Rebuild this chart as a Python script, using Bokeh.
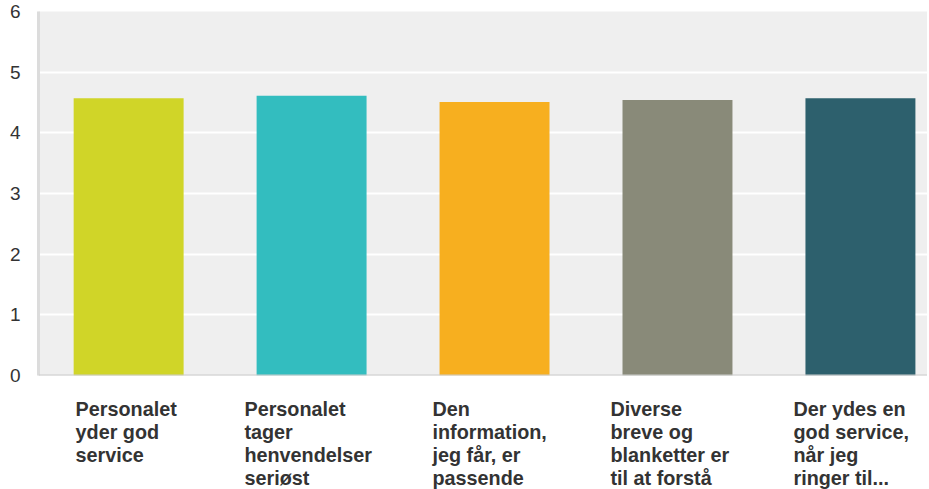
from bokeh.plotting import figure
from bokeh.models import FixedTicker, Range1d, Span, ColumnDataSource
from bokeh.layouts import column
from bokeh.core.properties import value
from bokeh.embed import file_html
from bokeh.resources import INLINE

categories = [
    "Personalet\nyder god\nservice",
    "Personalet\ntager\nhenvendelser\nseriøst",
    "Den\ninformation,\njeg får, er\npassende",
    "Diverse\nbreve og\nblanketter er\ntil at forstå",
    "Der ydes en\ngod service,\nnår jeg\nringer til...",
]
values = [4.57, 4.61, 4.51, 4.54, 4.57]
colors = ["#D0D528", "#33BDBF", "#F7AF1F", "#898A79", "#2D606D"]
y_ticks = [0, 1, 2, 3, 4, 5, 6]

xs = list(range(len(categories)))
label_shift = [-0.29, -0.367, -0.339, -0.366, -0.366]

W = 927
H1 = 387
H2 = 102
xr = Range1d(-0.4927, 4.3666)

p = figure(width=W, height=H1, output_backend="svg", toolbar_location=None,
           x_axis_location=None, x_range=xr, y_range=Range1d(0, 6),
           min_border_left=38, min_border_right=0, min_border_top=11, min_border_bottom=12)

p.background_fill_color = "#EFEFEF"
p.border_fill_color = "white"
p.outline_line_color = None

p.vbar(x=xs, top=values, width=0.601, color=colors, line_color=None)

p.xgrid.visible = False
p.ygrid.grid_line_color = "white"
p.ygrid.grid_line_width = 2
p.ygrid.ticker = FixedTicker(ticks=y_ticks)

p.add_layout(Span(location=0, dimension="width", line_color="#CCCCCC", line_width=2))

ya = p.yaxis[0]
ya.ticker = FixedTicker(ticks=y_ticks)
ya.axis_line_color = "#DCDCDC"
ya.axis_line_width = 3
ya.major_tick_line_color = None
ya.minor_tick_line_color = None
ya.major_label_standoff = 12
ya.major_label_text_font = "Liberation Sans"
ya.major_label_text_font_size = "19px"
ya.major_label_text_color = "#333333"

# category labels panel, sharing the x scale of the bars
q = figure(width=W, height=H2, output_backend="svg", toolbar_location=None,
           x_axis_location=None, y_axis_location=None,
           x_range=xr, y_range=Range1d(H2, 0),
           min_border_left=38, min_border_right=0, min_border_top=0, min_border_bottom=0)
q.background_fill_color = "white"
q.border_fill_color = "white"
q.outline_line_color = None
q.grid.visible = False

src = ColumnDataSource(dict(
    x=[x + s for x, s in zip(xs, label_shift)],
    y=[10] * len(xs),
    text=categories,
))
q.text(x="x", y="y", text="text", source=src,
       text_align="left", text_baseline="top",
       text_font=value("Liberation Sans"), text_font_style="bold",
       text_font_size="19.8px", text_color="#333333",
       text_line_height=1.06)

layout = column(p, q, spacing=0)
open("out.html", "w").write(file_html(layout, INLINE))
